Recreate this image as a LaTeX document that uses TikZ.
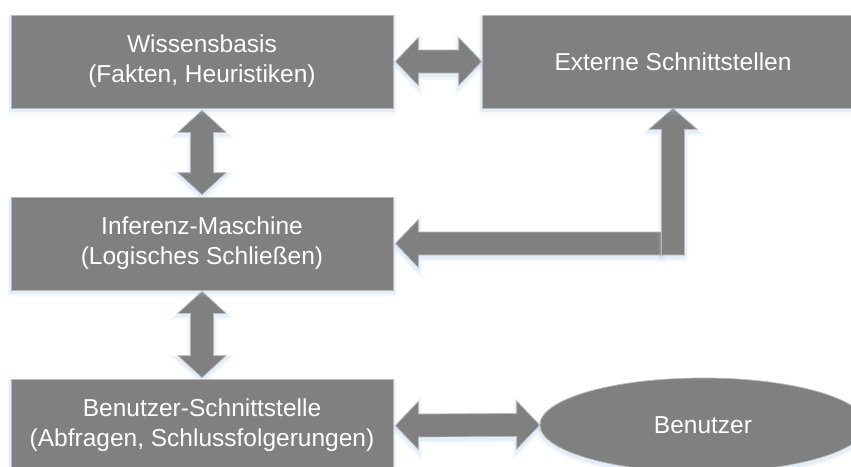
\documentclass[tikz,border=0pt]{standalone}
\usepackage{fontspec}
\setmainfont{Liberation Sans}
\usetikzlibrary{calc,shapes.geometric,backgrounds}

\definecolor{blockgray}{HTML}{808080}
\definecolor{edgegray}{HTML}{B8B8B8}
\definecolor{glowblue}{RGB}{170,200,235}

\tikzset{
  glow/.style={
    preaction={draw=glowblue, draw opacity=0.12, line width=7pt, transform canvas={yshift=-3pt}},
    preaction={draw=glowblue, draw opacity=0.22, line width=3.5pt, transform canvas={yshift=-2.5pt}}},
  block/.style={glow, rectangle, fill=blockgray, draw=edgegray, line width=0.7pt,
    minimum width=382pt, minimum height=93pt, inner sep=0pt, text=white,
    align=center, font=\fontsize{24.5}{30}\selectfont},
  actor/.style={block, ellipse, minimum width=326pt, minimum height=94pt},
  arrowbody/.style={glow, fill=blockgray, draw=edgegray, line width=0.7pt, line join=miter}
}

% double-headed horizontal arrow, tips at #1 (left) and #2 (right)
\newcommand{\hdouble}[2]{%
  \draw[arrowbody] (#1) -- ++(23,-24) -- ++(0,12.5) -- ($(#2)+(-23,-11.5)$) -- ++(0,-12.5)
    -- (#2) -- ++(-23,24) -- ++(0,-12.5) -- ($(#1)+(23,11.5)$) -- ++(0,12.5) -- cycle;}
% double-headed vertical arrow, tips at #1 (top) and #2 (bottom)
\newcommand{\vdouble}[2]{%
  \draw[arrowbody] (#1) -- ++(24,22) -- ++(-12.5,0) -- ($(#2)+(11.5,-22)$) -- ++(12.5,0)
    -- (#2) -- ++(-24,-22) -- ++(12.5,0) -- ($(#1)+(-11.5,22)$) -- ++(-12.5,0) -- cycle;}

\begin{document}
\begin{tikzpicture}[x=1pt, y=-1pt]
  \useasboundingbox (0,0) rectangle (851,466);

  \node[block] (wb)  at (202,61.5)  {Wissensbasis\\(Fakten, Heuristiken)};
  \node[block] (ext) at (673,61.5)  {Externe Schnittstellen};
  \node[block] (inf) at (202,243.5) {Inferenz-Maschine\\(Logisches Schließen)};
  \node[block] (bs)  at (202,425.5) {Benutzer-Schnittstelle\\(Abfragen, Schlussfolgerungen)};
  \node[actor] (ben) at (703,425)   {Benutzer};

  \begin{pgfonlayer}{background}
    % knowledge base <-> external interfaces
    \coordinate (wbR) at ($(wb.east)+(2,0)$);
    \hdouble{wbR}{ext.west}
    % knowledge base <-> inference engine
    \coordinate (wbB) at ($(wb.south)+(0,2)$);
    \coordinate (infT) at ($(inf.north)+(0,-2)$);
    \vdouble{wbB}{infT}
    % inference engine <-> user interface
    \coordinate (infB) at ($(inf.south)+(0,1)$);
    \coordinate (bsT) at ($(bs.north)+(0,-1)$);
    \vdouble{infB}{bsT}
    % user interface <-> user
    \coordinate (bsR) at ($(bs.east)+(2,0)$);
    \hdouble{bsR}{ben.west}

    % bent connector between external interfaces and inference engine
    \coordinate (infR) at ($(inf.east)+(2,0)$);
    \coordinate (bend) at (ext.south |- inf.east);
    \draw[arrowbody] (infR) -- ++(23,-24) -- ++(0,12.5) -- ($(bend)+(-11.5,-11.5)$)
      -- ($(bend)+(-11.5,11.5)$) -- ($(infR)+(23,11.5)$) -- ++(0,12.5) -- cycle;
    \draw[arrowbody] (ext.south) -- ++(24,21) -- ++(-12.5,0) -- ($(bend)+(11.5,11.5)$)
      -- ($(bend)+(-11.5,11.5)$) -- ($(ext.south)+(-11.5,21)$) -- ++(-12.5,0) -- cycle;
  \end{pgfonlayer}
\end{tikzpicture}
\end{document}
